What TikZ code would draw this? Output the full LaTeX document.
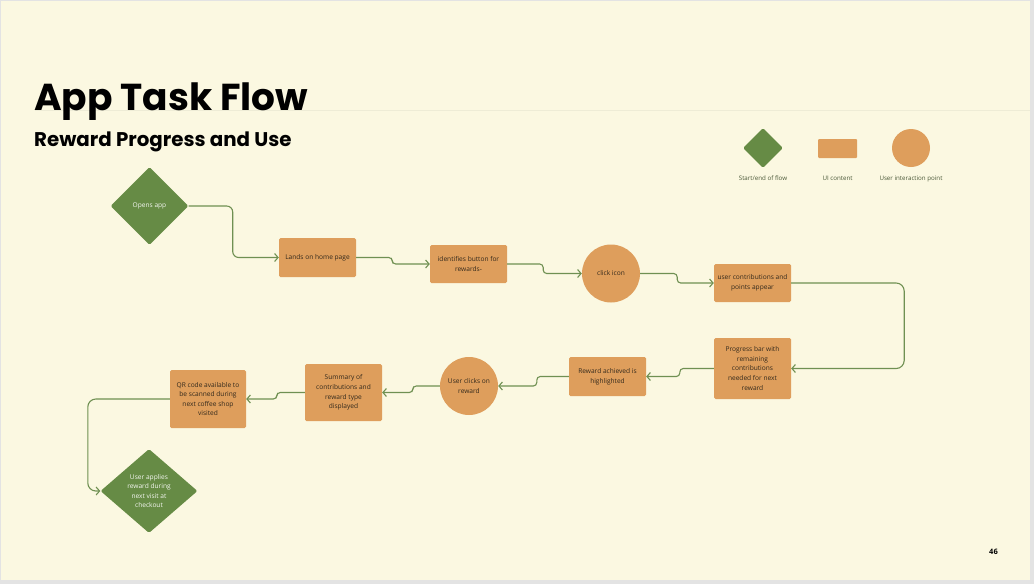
\documentclass[tikz,border=0pt]{standalone}
\usepackage{fontspec}
\usetikzlibrary{shapes.geometric,arrows.meta,calc}
\newfontfamily\bodyf{Open Sans}
\newfontfamily\titlef{Poppins}
\definecolor{bgc}{HTML}{FBF8E1}
\definecolor{framec}{HTML}{E3E3E3}
\definecolor{orangec}{HTML}{DE9E5C}
\definecolor{greenc}{HTML}{668B45}
\definecolor{linec}{HTML}{6F9052}
\definecolor{txtc}{HTML}{33291C}
\definecolor{legc}{HTML}{4A5838}
\tikzset{
  ui/.style={fill=orangec, rounded corners=1.5pt, minimum width=77pt, minimum height=39pt, inner sep=0pt, align=center, font=\bodyf\fontsize{6.6}{9.6}\selectfont, text=txtc},
  act/.style={circle, fill=orangec, minimum size=58pt, inner sep=0pt, align=center, font=\bodyf\fontsize{6.6}{9.6}\selectfont, text=txtc},
  term/.style={diamond, aspect=1, fill=greenc, rounded corners=1.5pt, inner sep=0pt, align=center, font=\bodyf\fontsize{6.6}{9.6}\selectfont, text=white!92!greenc},
  flow/.style={draw=linec, line width=1.1pt, rounded corners=3.5pt, -{Straight Barb[length=3.5pt,width=8pt,line width=1.1pt]}},
  leg/.style={font=\bodyf\fontsize{6.2}{7}\selectfont, text=legc, anchor=base}
}
\begin{document}
\begin{tikzpicture}[x=1pt,y=-1pt]
\fill[framec] (0,0) rectangle (1034,584);
\fill[bgc] (1,1) rectangle (1030,580);
\useasboundingbox (0,0) rectangle (1034,584);
\draw[bgc!95!black, line width=0.4pt] (35,110.5) -- (1030,110.5);
% titles
\node[anchor=base west, inner sep=0pt, font=\titlef\bfseries\fontsize{37.5}{42}\selectfont] (title) at (34,110) {App Task Flow};
\node[anchor=base west, inner sep=0pt, font=\titlef\bfseries\fontsize{19.8}{22}\selectfont] (subtitle) at (34,146) {Reward Progress and Use};
% legend
\node[term, minimum size=40pt] (lgd) at (763,148) {};
\node[fill=orangec, rounded corners=1pt, minimum width=39pt, minimum height=19pt, inner sep=0pt] (lgr) at (837.5,148.5) {};
\node[circle, fill=orangec, minimum size=38pt, inner sep=0pt] (lgc) at (911,148) {};
\node[leg] (lgdt) at (763,180.5) {Start/end of flow};
\node[leg] (lgrt) at (837.5,180.5) {UI content};
\node[leg] (lgct) at (911,180.5) {User interaction point};
% nodes
\node[term, minimum size=78pt] (open) at (149.5,206) {Opens app};
\node[ui] (lands) at (317.5,257.5) {Lands on home page};
\node[ui, minimum height=38pt] (ident) at (468.5,264) {identifies button for\\rewards-};
\node[act] (click) at (611,273.5) {click icon};
\node[ui, minimum height=38pt] (userc) at (752.5,283) {user contributions and\\points appear};
\node[ui, minimum height=61pt] (prog) at (752.5,368.5) {Progress bar with\\remaining\\contributions\\needed for next\\reward};
\node[ui] (rach) at (607.5,376.5) {Reward achieved is\\highlighted};
\node[act] (uclick) at (469,386) {User clicks on\\reward};
\node[ui, minimum height=57pt] (summ) at (343.5,392.5) {Summary of\\contributions and\\reward type\\displayed};
\node[ui, minimum width=76pt, minimum height=58pt] (qr) at (208,399) {QR code available to\\be scanned during\\next coffee shop\\visited};
\node[term, aspect=1.16, minimum width=97pt, minimum height=84pt] (apply) at (149,491) {User applies\\reward during\\next visit at\\checkout};
% page number
\node[anchor=base, inner sep=0pt, font=\bodyf\bfseries\fontsize{7.5}{9}\selectfont] (pg) at (993.5,554) {46};
% connectors
\draw[flow, rounded corners=6pt] (open.east) -- ($(open.east)+(44,0)$) |- (lands.west);
\draw[flow] (lands.east) -- ($(lands.east)+(36,0)$) |- (ident.west);
\draw[flow] (ident.east) -- ($(ident.east)+(36,0)$) |- (click.west);
\draw[flow] (click.east) -- ($(click.east)+(37,0)$) |- (userc.west);
\draw[flow, rounded corners=8pt] (userc.east) -- ($(userc.east)+(113,0)$) |- (prog.east);
\draw[flow] (prog.west) -- ($(prog.west)+(-34,0)$) |- (rach.east);
\draw[flow] (rach.west) -- ($(rach.west)+(-32,0)$) |- (uclick.east);
\draw[flow] (uclick.west) -- ($(uclick.west)+(-27,0)$) |- (summ.east);
\draw[flow] (summ.west) -- ($(summ.west)+(-28,0)$) |- (qr.east);
\draw[flow, rounded corners=8pt] (qr.west) -- ($(qr.west)+(-82,0)$) |- (apply.west);
\end{tikzpicture}
\end{document}
